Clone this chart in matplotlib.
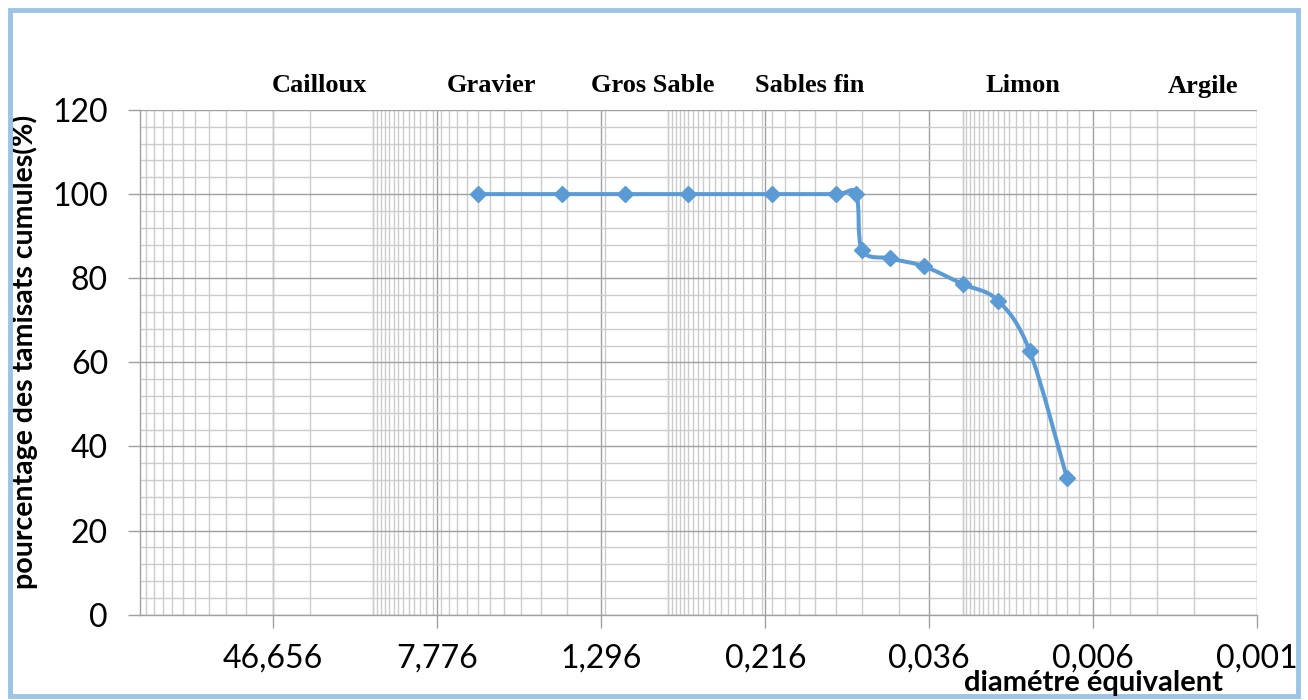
import numpy as np
import matplotlib
matplotlib.use("Agg")
import matplotlib.pyplot as plt
from matplotlib.path import Path
from matplotlib.patches import PathPatch, Rectangle
from matplotlib.ticker import FixedLocator, NullFormatter

# diametre equivalent (mm) et pourcentage des tamisats cumules
diametre = [5, 2, 1, 0.5, 0.2, 0.1, 0.08, 0.075, 0.055, 0.038, 0.025, 0.017, 0.012, 0.008]
tamisats = [100, 100, 100, 100, 100, 100, 100, 86.7, 84.7, 82.8, 78.6, 74.7, 62.6, 32.5]

x_ticks = [46.656, 7.776, 1.296, 0.216, 0.036, 0.006, 0.001]
x_labels = ["46,656", "7,776", "1,296", "0,216", "0,036", "0,006", "0,001"]
y_ticks = [0, 20, 40, 60, 80, 100, 120]

classes = ["Cailloux", "Gravier", "Gros Sable", "Sables fin", "Limon", "Argile"]
classes_px = [319, 491, 653, 810, 1023, 1203]

W, H = 1308, 700
plt.rcParams['font.family'] = ['Lato', 'DejaVu Sans']

fig = plt.figure(figsize=(W / 100, H / 100), dpi=100)
ax = fig.add_axes([140 / W, 1 - 614.7 / H, (1257.3 - 140) / W, (614.7 - 110) / H])

ax.set_xscale('log', base=6)
ax.set_xlim(200, 0.001)
ax.set_ylim(0, 120)

# quadrillage facon Excel : pas lineaires 0.001, 0.025, 0.625, 15.625
minors = []
for step in [0.001, 0.025, 0.625, 15.625]:
    minors += list(np.arange(1, 26) * step)
minors = [m for m in minors if 0.001 <= m <= 200.5]

ax.xaxis.set_major_locator(FixedLocator(x_ticks))
ax.xaxis.set_minor_locator(FixedLocator(minors))
ax.xaxis.set_minor_formatter(NullFormatter())
ax.set_xticklabels(x_labels)
ax.yaxis.set_major_locator(FixedLocator(y_ticks))
ax.yaxis.set_minor_locator(FixedLocator(np.arange(0, 121, 4)))

ax.grid(which='major', color='#a0a0a0', linewidth=1.0)
ax.grid(which='minor', color='#cccccc', linewidth=1.0)
ax.set_axisbelow(True)

ax.tick_params(axis='x', which='major', direction='out', length=9, width=1,
               color='#a0a0a0', labelsize=23, pad=12)
ax.tick_params(axis='y', which='major', direction='out', length=9, width=1,
               color='#a0a0a0', labelsize=23, pad=14)
ax.tick_params(which='minor', length=0)

for s in ['top', 'right']:
    ax.spines[s].set_visible(False)
for s in ['left', 'bottom']:
    ax.spines[s].set_color('#a0a0a0')
    ax.spines[s].set_linewidth(1)

# courbe lissee (Bezier) comme Excel
pts = ax.transData.transform(np.column_stack([diametre, tamisats]))
n = len(pts)
verts = [pts[0]]
codes = [Path.MOVETO]
for i in range(n - 1):
    p0 = pts[i - 1] if i > 0 else pts[i]
    p1 = pts[i]
    p2 = pts[i + 1]
    p3 = pts[i + 2] if i + 2 < n else pts[i + 1]
    c1 = p1 + (p2 - p0) / 6
    c2 = p2 - (p3 - p1) / 6
    verts += [c1, c2, p2]
    codes += [Path.CURVE4] * 3
verts = ax.transData.inverted().transform(np.array(verts))
ax.add_patch(PathPatch(Path(verts, codes), fill=False, edgecolor='#5b9bd5',
                       linewidth=2.9, transform=ax.transData, zorder=3))
ax.plot(diametre, tamisats, linestyle='none', marker='D', markersize=8,
        color='#5b9bd5', zorder=4)

ax.set_ylabel("pourcentage des tamisats cumules(%)", fontsize=20.5, fontweight='bold')
ax.yaxis.set_label_coords((38 - 140) / (1257.3 - 140), (614.7 - 352) / (614.7 - 110))

fig.text(1093 / W, 1 - 683 / H, "diamétre équivalent", fontsize=21,
         fontweight='bold', ha='center', va='center')

for name, px in zip(classes, classes_px):
    fig.text(px / W, 1 - 86 / H, name, fontsize=19, fontweight='bold',
             family='Liberation Serif', ha='center', va='center')

fig.patches.append(Rectangle((10 / W, 4 / H), 1288 / W, 686 / H, fill=False,
                             edgecolor='#9dc3e6', linewidth=3.5,
                             transform=fig.transFigure))

fig.savefig("out.png", dpi=100)
